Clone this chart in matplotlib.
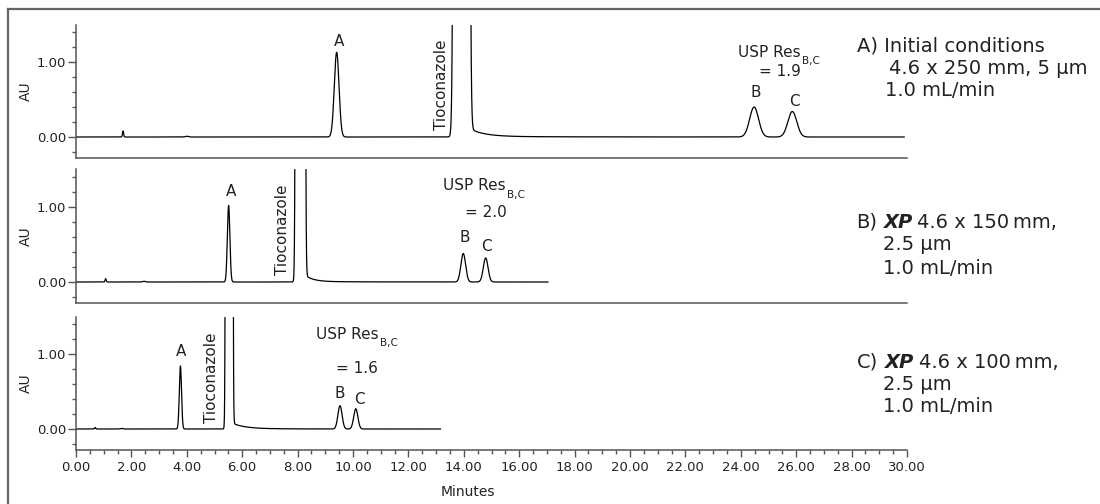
import numpy as np
import matplotlib.pyplot as plt
from matplotlib.lines import Line2D
from matplotlib.ticker import MultipleLocator, FixedLocator

# peak tables
# retention time (min), height (AU), width sigma (min)
rt_1 = [1.70, 4.00, 9.41, 13.92, 24.48, 25.86]
au_1 = [0.08, 0.01, 1.13, 2000.0, 0.40, 0.34]
sd_1 = [0.02, 0.05, 0.085, 0.089, 0.16, 0.16]
tail_1 = [0.18, 0.008]      # tioconazole tailing, AU
tau_1 = [0.53, 3.0]         # min
end_1 = 29.9

rt_2 = [1.07, 2.45, 5.51, 8.10, 13.98, 14.79]
au_2 = [0.045, 0.01, 1.02, 2000.0, 0.38, 0.32]
sd_2 = [0.02, 0.04, 0.045, 0.053, 0.085, 0.085]
tail_2 = [0.15, 0.006]
tau_2 = [0.30, 2.0]
end_2 = 17.04

rt_3 = [0.69, 1.65, 3.77, 5.53, 9.53, 10.10]
au_3 = [0.02, 0.008, 0.84, 2000.0, 0.31, 0.27]
sd_3 = [0.02, 0.04, 0.04, 0.04, 0.075, 0.075]
tail_3 = [0.093, 0.006]
tau_3 = [0.45, 1.5]
end_3 = 13.16

# label positions (min, AU)
lab_1 = {"A": (9.51, 1.27), "Tio": (13.2, 0.09), "USP": (23.9, 1.13),
         "eq": (25.4, 0.87), "B": (24.55, 0.59), "C": (25.92, 0.47)}
lab_2 = {"A": (5.58, 1.20), "Tio": (7.44, 0.09), "USP": (13.26, 1.28),
         "eq": (14.8, 0.92), "B": (14.05, 0.59), "C": (14.83, 0.47)}
lab_3 = {"A": (3.79, 1.03), "Tio": (4.9, 0.08), "USP": (8.65, 1.26),
         "eq": (10.15, 0.81), "B": (9.53, 0.48), "C": (10.22, 0.39)}
res_vals = ["= 1.9", "= 2.0", "= 1.6"]


def trace(rts, aus, sds, tails, taus, end):
    t = np.arange(0, end, 0.002)
    y = np.zeros_like(t)
    for r, h, s in zip(rts, aus, sds):
        y += h * np.exp(-0.5 * ((t - r) / s) ** 2)
    t0 = rts[3]
    for a, tau in zip(tails, taus):
        y += np.where(t >= t0, a * np.exp(-(t - t0) / tau), 0)
    return t, y


txt_col = "#222222"
ax_col = "#555555"

fig = plt.figure(figsize=(11, 5.04), dpi=100)

# outer frame (left and top only, rest is cropped)
fig.add_artist(Line2D([8 / 1100, 8 / 1100], [0, 1 - 9 / 504], color="#666666", lw=1.6))
fig.add_artist(Line2D([8 / 1100, 1], [1 - 9 / 504, 1 - 9 / 504], color="#666666", lw=1.6))

bottoms = [1 - 158 / 504, 1 - 303 / 504, 1 - 450 / 504]
panels = [
    (rt_1, au_1, sd_1, tail_1, tau_1, end_1, lab_1),
    (rt_2, au_2, sd_2, tail_2, tau_2, end_2, lab_2),
    (rt_3, au_3, sd_3, tail_3, tau_3, end_3, lab_3),
]

for i, (rts, aus, sds, tails, taus, end, lab) in enumerate(panels):
    ax = fig.add_axes([76 / 1100, bottoms[i], 831 / 1100, 133.5 / 504])
    t, y = trace(rts, aus, sds, tails, taus, end)
    ax.plot(t, y, color="black", lw=0.9)
    ax.set_xlim(0, 30)
    ax.set_ylim(-0.28, 1.5)
    for s in ["top", "right"]:
        ax.spines[s].set_visible(False)
    for s in ["left", "bottom"]:
        ax.spines[s].set_color(ax_col)
        ax.spines[s].set_linewidth(1.1)
    ax.yaxis.set_major_locator(FixedLocator([0, 1]))
    ax.set_yticklabels(["0.00", "1.00"])
    ax.yaxis.set_minor_locator(FixedLocator([-0.2, 0.2, 0.4, 0.6, 0.8, 1.2, 1.4]))
    ax.tick_params(axis="y", which="major", length=5.5, width=1, color=ax_col,
                   labelsize=9.5, labelcolor=txt_col, pad=1.5)
    ax.tick_params(axis="y", which="minor", length=3, width=1, color=ax_col)
    ax.set_ylabel("AU", fontsize=10, color=txt_col)
    ax.yaxis.set_label_coords(-0.052, 0.5)
    if i < 2:
        ax.tick_params(axis="x", which="both", bottom=False, labelbottom=False)
    else:
        ax.xaxis.set_major_locator(MultipleLocator(2))
        ax.xaxis.set_minor_locator(MultipleLocator(0.5))
        ax.xaxis.set_major_formatter(lambda v, p: f"{v:.2f}")
        ax.tick_params(axis="x", which="major", length=5, width=1, color=ax_col,
                       labelsize=9.5, labelcolor=txt_col, pad=3)
        ax.tick_params(axis="x", which="minor", length=3, width=1, color=ax_col)

    for k in ["A", "B", "C"]:
        ax.text(*lab[k], k, fontsize=11, color=txt_col, ha="center", va="center")
    ax.text(*lab["Tio"], "Tioconazole", fontsize=11, color=txt_col, rotation=90,
            ha="center", va="bottom")
    u = ax.text(*lab["USP"], "USP Res", fontsize=11, color=txt_col, ha="left", va="center")
    ax.annotate("B,C", xy=(1, 0), xycoords=u, xytext=(1, -1), textcoords="offset points",
                fontsize=7.5, color=txt_col, ha="left", va="center")
    ax.text(*lab["eq"], res_vals[i], fontsize=11, color=txt_col, ha="center", va="center")

fig.text(468 / 1100, 1 - 492 / 504, "Minutes", fontsize=10, color=txt_col,
         ha="center", va="center")

# column conditions on the right
fs = 14


def put(x, y, s, **kw):
    return fig.text(x / 1100, 1 - y / 504, s, fontsize=fs, color=txt_col,
                    ha="left", va="center", **kw)


def xp_line(x, y, tag, rest):
    t1 = put(x, y, tag)
    t2 = fig.text(0, 0, "", fontsize=fs)
    t2 = plt.annotate("XP", xy=(1, 0.5), xycoords=t1, xytext=(5, 0),
                      textcoords="offset points", fontsize=fs, color=txt_col,
                      fontweight="bold", fontstyle="italic", ha="left", va="center")
    plt.annotate(rest, xy=(1, 0.5), xycoords=t2, xytext=(3, 0),
                 textcoords="offset points", fontsize=fs, color=txt_col,
                 ha="left", va="center")


put(857, 46, "A) Initial conditions")
put(889, 68, "4.6 x 250 mm, 5 \u00b5m")
put(885, 90, "1.0 mL/min")

xp_line(856, 222, "B)", "4.6 x 150\u2009mm,")
put(883, 245, "2.5 \u00b5m")
put(883, 268, "1.0 mL/min")

xp_line(857, 362, "C)", "4.6 x 100\u2009mm,")
put(883, 385, "2.5 \u00b5m")
put(883, 407, "1.0 mL/min")

fig.savefig("out.png", dpi=100)
